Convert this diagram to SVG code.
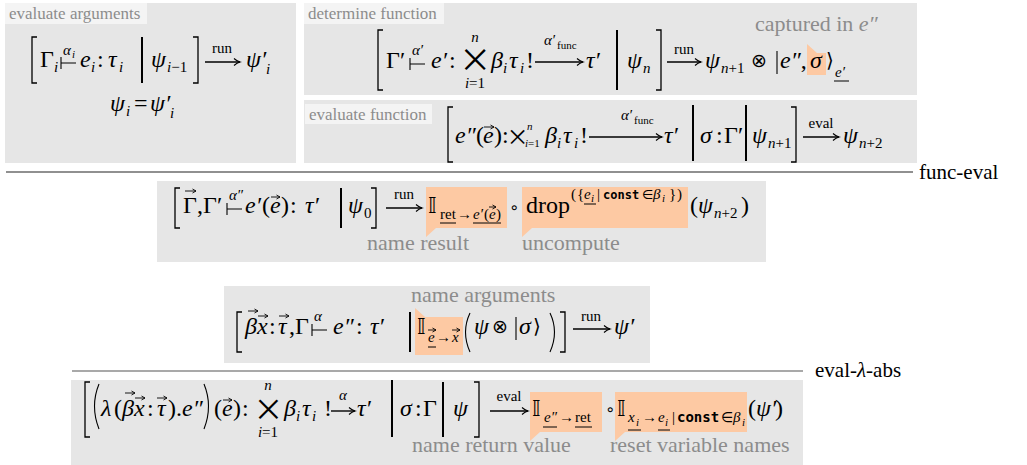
<svg xmlns="http://www.w3.org/2000/svg" width="1027" height="465" viewBox="0 0 1027 465" font-family="'Liberation Serif', 'DejaVu Serif', serif">
<defs>
<style>
.m{font-family:'Liberation Serif','DejaVu Serif',serif;font-size:24px;fill:#000}
.s{font-family:'Liberation Serif','DejaVu Serif',serif;font-size:15px;fill:#000}
.ss{font-family:'Liberation Serif','DejaVu Serif',serif;font-size:11px;fill:#000}
.i{font-style:italic}
.n{font-style:normal}
.lbl{font-family:'Liberation Serif','DejaVu Serif',serif;font-size:17px;fill:#8c8c8c}
.ann{font-family:'Liberation Serif','DejaVu Serif',serif;font-size:22px;fill:#8c8c8c}
.rule{font-family:'Liberation Serif','DejaVu Serif',serif;font-size:21px;fill:#000}
.tt{font-family:'DejaVu Sans Mono','Liberation Mono',monospace;font-weight:bold;font-style:normal;fill:#000}
.sym{font-family:'DejaVu Sans','Noto Sans',sans-serif;fill:#000}
.box{fill:#e6e6e6}
.lbg{fill:#f4f4f4}
.hl{fill:#fdc9a3}
.br{fill:none;stroke:#000;stroke-width:1.3}
.bar{stroke:#000;stroke-width:2}
.thin{stroke:#000;stroke-width:1.1;fill:none}
.arr{stroke:#000;stroke-width:1.4;marker-end:url(#ah)}
.vec{stroke:#000;stroke-width:0.9;marker-end:url(#vh)}
.ul{stroke:#000;stroke-width:1}
</style>
<marker id="ah" markerWidth="10" markerHeight="10" refX="8" refY="5" orient="auto" markerUnits="userSpaceOnUse"><path d="M2,1.5 Q5,4.2 8,5 Q5,5.8 2,8.5" fill="none" stroke="#000" stroke-width="1.1"/></marker>
<marker id="vh" markerWidth="6" markerHeight="6" refX="5" refY="3" orient="auto" markerUnits="userSpaceOnUse"><path d="M1.5,1 L5,3 L1.5,5" fill="none" stroke="#000" stroke-width="0.9"/></marker>
</defs>

<g id="rules">
<line x1="6" y1="172" x2="913" y2="172" stroke="#222" stroke-width="1.2"/>
<text class="rule" x="919" y="179">func-eval</text>
<line x1="72" y1="371" x2="803" y2="371" stroke="#555" stroke-width="1.2"/>
<text class="rule" x="815" y="377">eval-<tspan class="i">λ</tspan>-abs</text>
</g>

<g id="evaluate-arguments">
<rect class="box" x="5" y="3" width="291" height="160"/>
<rect class="lbg" x="5" y="3" width="142" height="21"/>
<text class="lbl" x="9" y="19">evaluate arguments</text>
<path class="br" d="M37,37 H32 V83 H37"/>
<text class="m" x="40" y="67">Γ<tspan class="s i" x="54" y="72">i</tspan></text>
<path class="thin" d="M61,57 V69 M61,63 H76"/>
<text class="s i" x="63" y="55">α<tspan class="ss" x="72" y="58">i</tspan></text>
<text class="m i" x="80" y="67">e<tspan class="s" x="91" y="72">i</tspan><tspan class="n" x="97" y="67">:</tspan></text>
<text class="m i" x="108" y="67">τ<tspan class="s" x="119" y="72">i</tspan></text>
<line class="bar" x1="142" y1="37" x2="142" y2="83"/>
<text class="m i" x="151" y="67">ψ<tspan class="s" x="167" y="72">i<tspan class="n">−1</tspan></tspan></text>
<path class="br" d="M193,37 H198 V83 H193"/>
<line class="arr" x1="205" y1="62" x2="240" y2="62"/>
<text class="s" x="222" y="53" text-anchor="middle">run</text>
<text class="m i" x="246" y="67">ψ′<tspan class="s" x="266" y="74">i</tspan></text>
<text class="m i" x="110" y="111">ψ<tspan class="s" x="126" y="116">i</tspan><tspan class="n" x="134" y="111">=</tspan><tspan x="150">ψ′</tspan><tspan class="s" x="170" y="118">i</tspan></text>
</g>

<g id="determine-function">
<rect class="box" x="304" y="3" width="613" height="92"/>
<rect class="lbg" x="304" y="3" width="140" height="21"/>
<text class="lbl" x="308" y="19">determine function</text>
<text class="ann" x="755" y="31">captured in <tspan class="i">e″</tspan></text>
<path class="br" d="M383,30 H378 V90 H383"/>
<text class="m" x="386" y="68">Γ′</text>
<path class="thin" d="M410,58 V70 M410,64 H425"/>
<text class="s i" x="412" y="55">α′</text>
<text class="m i" x="431" y="68">e′<tspan class="n" x="449">:</tspan></text>
<text class="sym" font-size="28" x="475" y="70" text-anchor="middle">⨉<tspan class="s i" x="475" y="42">n</tspan><tspan class="s" x="475" y="88"><tspan class="i">i</tspan>=1</tspan></text>
<text class="m i" x="491" y="68">β<tspan class="s" x="503" y="73">i</tspan><tspan x="509" y="68">τ</tspan><tspan class="s" x="520" y="73">i</tspan><tspan class="n" x="526" y="68">!</tspan></text>
<line class="arr" x1="535" y1="62" x2="583" y2="62"/>
<text class="s i" x="544" y="45">α′<tspan class="ss n" x="557" y="49">func</tspan></text>
<text class="m i" x="586" y="68">τ′</text>
<line class="bar" x1="617" y1="30" x2="617" y2="90"/>
<text class="m i" x="627" y="68">ψ<tspan class="s" x="643" y="73">n</tspan></text>
<path class="br" d="M656,30 H661 V90 H656"/>
<line class="arr" x1="667" y1="62" x2="701" y2="62"/>
<text class="s" x="684" y="54" text-anchor="middle">run</text>
<text class="m i" x="705" y="68">ψ<tspan class="s" x="721" y="73">n<tspan class="n">+1</tspan></tspan></text>
<text class="sym" x="751" y="67" font-size="19">⊗</text>
<line class="thin" x1="777" y1="51" x2="777" y2="74"/>
<text class="m i" x="780" y="68">e″<tspan class="n">,</tspan></text>
<path class="hl" d="M807,44 L817,53 H826 V75 H807 Z"/>
<text class="m i" x="810" y="68">σ</text>
<text class="sym" x="826" y="67" font-size="20">⟩<tspan class="s i" x="835" y="77">e′</tspan></text>
<line class="ul" x1="834" y1="81" x2="849" y2="81"/>
</g>

<g id="evaluate-function">
<rect class="box" x="304" y="100" width="613" height="63"/>
<rect class="lbg" x="305" y="104" width="127" height="20"/>
<text class="lbl" x="309" y="120">evaluate function</text>
<path class="br" d="M453,107 H448 V162 H453"/>
<text class="m i" x="455" y="143">e″<tspan class="n" x="476">(</tspan><tspan x="483">e</tspan><tspan class="n" x="494">)</tspan><tspan class="n" x="502">:</tspan></text>
<line class="vec" x1="484" y1="127" x2="494" y2="127"/>
<text class="sym" x="510" y="144" font-size="19">⨉<tspan class="ss i" x="527" y="130">n</tspan><tspan class="ss" x="525" y="147"><tspan class="i">i</tspan>=1</tspan></text>
<text class="m i" x="545" y="143">β<tspan class="s" x="557" y="148">i</tspan><tspan x="563" y="143">τ</tspan><tspan class="s" x="574" y="148">i</tspan><tspan class="n" x="580" y="143">!</tspan></text>
<line class="arr" x1="589" y1="137" x2="662" y2="137"/>
<text class="s i" x="621" y="120">α′<tspan class="ss n" x="634" y="124">func</tspan></text>
<text class="m i" x="664" y="143">τ′</text>
<line class="bar" x1="693" y1="105" x2="693" y2="161"/>
<text class="m i" x="700" y="143">σ<tspan class="n" x="716">:</tspan><tspan class="n" x="724">Γ′</tspan></text>
<line class="bar" x1="746" y1="105" x2="746" y2="161"/>
<text class="m i" x="752" y="143">ψ<tspan class="s" x="768" y="148">n<tspan class="n">+1</tspan></tspan></text>
<path class="br" d="M791,107 H796 V162 H791"/>
<line class="arr" x1="803" y1="137" x2="839" y2="137"/>
<text class="s" x="821" y="128" text-anchor="middle">eval</text>
<text class="m i" x="843" y="143">ψ<tspan class="s" x="859" y="148">n<tspan class="n">+2</tspan></tspan></text>
</g>

<g id="func-eval-conclusion">
<rect class="box" x="157" y="181" width="609" height="81"/>
<path class="br" d="M180,188 H175 V228 H180"/>
<text class="m" x="183" y="213">Γ<tspan x="197">,</tspan><tspan x="203">Γ′</tspan></text>
<line class="vec" x1="185" y1="191" x2="196" y2="191"/>
<path class="thin" d="M227,203 V215 M227,209 H242"/>
<text class="s i" x="229" y="200">α″</text>
<text class="m i" x="245" y="213">e′<tspan class="n" x="262">(</tspan><tspan x="270">e</tspan><tspan class="n" x="281">)</tspan><tspan class="n" x="290">:</tspan></text>
<line class="vec" x1="271" y1="197" x2="280" y2="197"/>
<text class="m i" x="305" y="213">τ′</text>
<line class="bar" x1="341" y1="188" x2="341" y2="228"/>
<text class="m i" x="348" y="213">ψ<tspan class="s n" x="364" y="218">0</tspan></text>
<path class="br" d="M371,188 H376 V228 H371"/>
<line class="arr" x1="386" y1="208" x2="422" y2="208"/>
<text class="s" x="404" y="199" text-anchor="middle">run</text>
<path class="hl" d="M426,187 H507 V228 H436 L426,237 Z"/>
<text class="sym" x="428" y="213" font-size="22">𝕀<tspan class="s" x="440" y="219">ret</tspan><tspan class="s" x="457">→</tspan><tspan class="s i" x="473">e′</tspan><tspan class="s" x="484">(</tspan><tspan class="s i" x="489">e</tspan><tspan class="s" x="496">)</tspan></text>
<line class="vec" x1="489" y1="207" x2="496" y2="207"/>
<line class="ul" x1="440" y1="223" x2="456" y2="223"/>
<line class="ul" x1="473" y1="223" x2="501" y2="223"/>
<text class="sym" x="509" y="213" font-size="16">∘</text>
<path class="hl" d="M522,187 H688 V228 H532 L522,237 Z"/>
<text class="m" x="526" y="213">drop<tspan class="s" x="571" y="199">(</tspan><tspan class="s" x="577">{</tspan><tspan class="s i" x="584">e</tspan><tspan class="ss i" x="591" y="202">i</tspan><tspan class="s" x="597" y="199">|</tspan><tspan class="tt" font-size="12" x="603">const</tspan><tspan class="sym" font-size="13" x="642">∈</tspan><tspan class="s i" x="653">β</tspan><tspan class="ss i" x="662" y="202">i</tspan><tspan class="s" x="669" y="199">}</tspan><tspan class="s" x="677">)</tspan></text>
<line class="ul" x1="584" y1="204" x2="596" y2="204"/>
<text class="m" x="690" y="213">(<tspan class="i" x="698">ψ</tspan><tspan class="s i" x="714" y="218">n<tspan class="n">+2</tspan></tspan><tspan x="741" y="213">)</tspan></text>
<text class="ann" x="367" y="250">name result</text>
<text class="ann" x="522" y="250">uncompute</text>
</g>

<g id="eval-abs-premise">
<rect class="box" x="224" y="286" width="426" height="77"/>
<text class="ann" x="411" y="302">name arguments</text>
<path class="br" d="M242,312 H237 V352 H242"/>
<text class="m i" x="245" y="334">β<tspan x="257">x</tspan><tspan class="n" x="269">:</tspan><tspan x="278">τ</tspan><tspan class="n" x="289">,</tspan><tspan class="n" x="295">Γ</tspan></text>
<line class="vec" x1="248" y1="311" x2="258" y2="311"/>
<line class="vec" x1="258" y1="316" x2="268" y2="316"/>
<line class="vec" x1="279" y1="316" x2="289" y2="316"/>
<path class="thin" d="M312,324 V336 M312,330 H327"/>
<text class="s i" x="314" y="321">α</text>
<text class="m i" x="333" y="334">e″<tspan class="n" x="356">:</tspan><tspan x="370">τ′</tspan></text>
<line class="bar" x1="410" y1="312" x2="410" y2="352"/>
<path class="hl" d="M415,308 L425,317 H463 V355 H415 Z"/>
<text class="sym" x="417" y="334" font-size="22">𝕀<tspan class="s i" x="428" y="342">e</tspan><tspan class="s" x="436">→</tspan><tspan class="s i" x="452">x</tspan></text>
<line class="vec" x1="428" y1="330" x2="436" y2="330"/>
<line class="vec" x1="452" y1="330" x2="460" y2="330"/>
<line class="ul" x1="428" y1="347" x2="436" y2="347"/>
<path class="thin" d="M470,313 Q461,332 470,352"/>
<text class="m i" x="474" y="334">ψ</text>
<text class="sym" x="492" y="333" font-size="19">⊗</text>
<line class="thin" x1="516" y1="317" x2="516" y2="340"/>
<text class="m i" x="519" y="334">σ</text>
<text class="sym" x="533" y="333" font-size="20">⟩</text>
<path class="thin" d="M550,313 Q559,332 550,352"/>
<path class="br" d="M560,312 H565 V352 H560"/>
<line class="arr" x1="573" y1="329" x2="610" y2="329"/>
<text class="s" x="591" y="321" text-anchor="middle">run</text>
<text class="m i" x="614" y="334">ψ′</text>
</g>

<g id="eval-abs-conclusion">
<rect class="box" x="71" y="380" width="732" height="85"/>
<path class="br" d="M90,382 H85 V437 H90"/>
<path class="thin" d="M99,384 Q90,406 99,429"/>
<text class="m i" x="101" y="416">λ<tspan class="n" x="114">(</tspan><tspan x="122">β</tspan><tspan x="134">x</tspan><tspan class="n" x="147">:</tspan><tspan x="157">τ</tspan><tspan class="n" x="168">).</tspan><tspan x="182">e″</tspan></text>
<line class="vec" x1="125" y1="393" x2="135" y2="393"/>
<line class="vec" x1="135" y1="398" x2="145" y2="398"/>
<line class="vec" x1="157" y1="398" x2="167" y2="398"/>
<path class="thin" d="M204,384 Q213,406 204,429"/>
<text class="m" x="214" y="416">(<tspan class="i" x="222">e</tspan><tspan x="233">)</tspan><tspan x="242">:</tspan></text>
<line class="vec" x1="223" y1="400" x2="232" y2="400"/>
<text class="sym" x="268" y="419" text-anchor="middle" font-size="26">⨉<tspan class="s i" x="268" y="390">n</tspan><tspan class="s" x="268" y="437"><tspan class="i">i</tspan>=1</tspan></text>
<text class="m i" x="284" y="416">β<tspan class="s" x="296" y="421">i</tspan><tspan x="302" y="416">τ</tspan><tspan class="s" x="312" y="421">i</tspan><tspan class="n" x="324" y="416">!</tspan></text>
<line class="arr" x1="331" y1="411" x2="355" y2="411"/>
<text class="s i" x="339" y="400">α</text>
<text class="m i" x="357" y="416">τ′</text>
<line class="bar" x1="392" y1="380" x2="392" y2="437"/>
<text class="m i" x="400" y="416">σ<tspan class="n" x="415">:</tspan><tspan class="n" x="423">Γ</tspan></text>
<line class="bar" x1="443" y1="382" x2="443" y2="437"/>
<text class="m i" x="453" y="416">ψ</text>
<path class="br" d="M474,382 H479 V437 H474"/>
<line class="arr" x1="490" y1="411" x2="528" y2="411"/>
<text class="s" x="509" y="401" text-anchor="middle">eval</text>
<path class="hl" d="M530,392 H602 V432 H540 L530,441 Z"/>
<text class="sym" x="532" y="416" font-size="22">𝕀<tspan class="s i" x="544" y="422">e″</tspan><tspan class="s" x="559">→</tspan><tspan class="s" x="575">ret</tspan></text>
<line class="ul" x1="543" y1="427" x2="557" y2="427"/>
<line class="ul" x1="575" y1="427" x2="592" y2="427"/>
<text class="sym" x="605" y="415" font-size="16">∘</text>
<path class="hl" d="M615,392 H747 V432 H625 L615,441 Z"/>
<text class="sym" x="617" y="416" font-size="22">𝕀<tspan class="s i" x="628" y="422">x</tspan><tspan class="ss i" x="636" y="426">i</tspan><tspan class="s" x="642" y="422">→</tspan><tspan class="s i" x="658">e</tspan><tspan class="ss i" x="665" y="426">i</tspan><tspan class="s" x="672" y="422">|</tspan><tspan class="tt" font-size="14" x="677">const</tspan><tspan class="sym" font-size="14" x="721">∈</tspan><tspan class="s i" x="733">β</tspan><tspan class="ss i" x="742" y="426">i</tspan></text>
<line class="ul" x1="628" y1="430" x2="641" y2="430"/>
<line class="ul" x1="658" y1="430" x2="670" y2="430"/>
<text class="m" x="748" y="416">(<tspan class="i" x="756">ψ′</tspan><tspan x="775">)</tspan></text>
<text class="ann" x="412" y="452">name return value</text>
<text class="ann" x="610" y="452">reset variable names</text>
</g>
</svg>
